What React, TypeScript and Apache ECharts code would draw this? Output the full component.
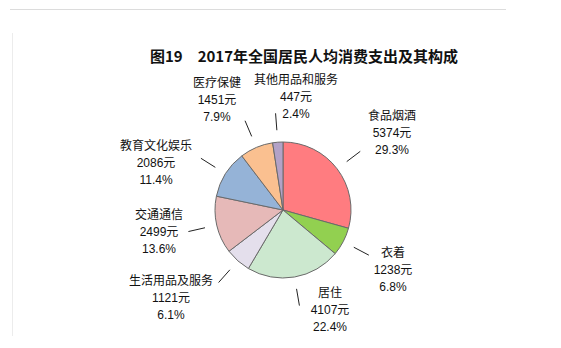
import React, { useEffect, useRef } from "react";
import * as echarts from "echarts";

const categories = ["食品烟酒", "衣着", "居住", "生活用品及服务", "交通通信", "教育文化娱乐", "医疗保健", "其他用品和服务"];
const values = [5374, 1238, 4107, 1121, 2499, 2086, 1451, 447];
const colors = ["#FF7C80", "#92D050", "#CCE8CF", "#E4DFEC", "#E6B9B8", "#95B3D7", "#FAC090", "#B3A2C7"];
const titleText = "图19　2017年全国居民人均消费支出及其构成";
// label block centres (text placement, not marks)
const labelPos: [number, number][] = [
  [392, 133], [393, 270], [330, 310], [171, 298], [159, 232], [156, 163], [217, 100], [296, 97],
];

const CX = 283;
const CY = 210;
const FONT = "Arial, 'Liberation Sans', 'Noto Sans CJK SC', sans-serif";

export default function App() {
  const ref = useRef<HTMLDivElement>(null);
  useEffect(() => {
    if (!ref.current) return;
    const chart = echarts.init(ref.current, undefined, { renderer: "svg" });
    const total = values.reduce((a, b) => a + b, 0);
    const data = categories.map((name, i) => ({ name, value: values[i], itemStyle: { color: colors[i] } }));
    const hidden = categories.map((name, i) => ({ name, value: values[i] }));
    chart.setOption({
      animation: false,
      backgroundColor: "#ffffff",
      title: {
        text: titleText,
        left: 299,
        top: 43,
        textAlign: "center",
        textStyle: { fontSize: 15, fontWeight: "bold", color: "#111", fontFamily: "'Noto Sans CJK SC', Arial, sans-serif" },
      },
      graphic: [
        { type: "line", shape: { x1: 10, y1: 9.5, x2: 506, y2: 9.5 }, style: { stroke: "#dcdcdc", lineWidth: 1 } },
        { type: "line", shape: { x1: 12.5, y1: 33, x2: 12.5, y2: 336 }, style: { stroke: "#ececec", lineWidth: 1 } },
      ],
      series: [
        {
          type: "pie",
          center: [CX, CY],
          radius: [0, 68],
          startAngle: 90,
          clockwise: true,
          silent: true,
          label: { show: false },
          labelLine: { show: false },
          itemStyle: { borderColor: "#6a6a6a", borderWidth: 1 },
          data,
        },
        {
          type: "pie",
          center: [CX, CY],
          radius: [0, 80],
          startAngle: 90,
          clockwise: true,
          silent: true,
          avoidLabelOverlap: false,
          itemStyle: { color: "rgba(0,0,0,0)", borderWidth: 0 },
          label: { show: true, position: "outside", formatter: " ", fontSize: 1, distance: 0 },
          labelLine: { show: true, length: 17, length2: 0, lineStyle: { color: "#222", width: 1 } },
          data: hidden,
        },
        {
          type: "pie",
          center: [CX, CY],
          radius: [0, 80],
          startAngle: 90,
          clockwise: true,
          silent: true,
          avoidLabelOverlap: false,
          itemStyle: { color: "rgba(0,0,0,0)", borderWidth: 0 },
          label: {
            show: true,
            position: "outside",
            formatter: (p: any) => `${p.name}\n${p.value}元\n${((p.value / total) * 100).toFixed(1)}%`,
            fontSize: 12,
            lineHeight: 17,
            color: "#111",
            fontFamily: FONT,
            align: "center",
          },
          labelLine: { show: false },
          labelLayout: (params: any) => {
            const p = labelPos[params.dataIndex];
            return { x: p[0], y: p[1], align: "center", verticalAlign: "middle" };
          },
          data: hidden,
        },
      ],
    });
    return () => chart.dispose();
  }, []);
  return <div ref={ref} style={{ position: "fixed", left: 0, top: 0, width: 561, height: 348 }} />;
}
